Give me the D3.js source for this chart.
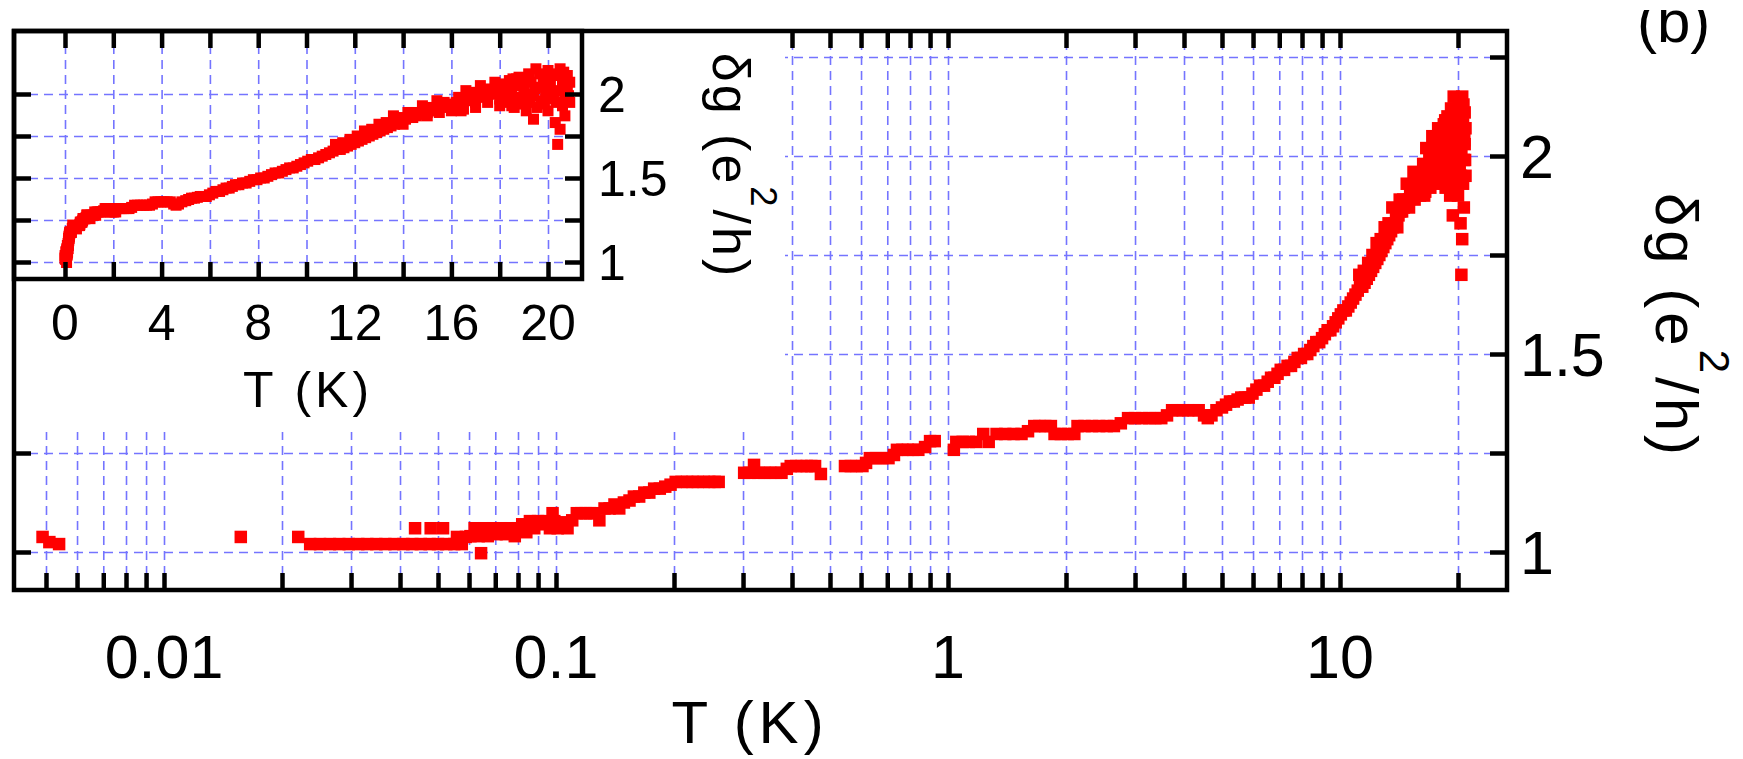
<!DOCTYPE html>
<html>
<head>
<meta charset="utf-8">
<script src="https://cdn.jsdelivr.net/npm/d3@7"></script>
<style>
  body { margin: 0; background: #fff; }
  svg text { font-family: "Liberation Sans", Arial, sans-serif; fill: #000; }
</style>
</head>
<body>
<svg id="chart" width="1743" height="759"></svg>
<script>
// temperature (K) and conductance correction (e^2/h)
const tempK = [
  0.0049, 0.0051, 0.0054, 0.0157, 0.0220, 0.0236, 0.0250, 0.0265, 0.0280, 0.0296,
  0.0313, 0.0330, 0.0348, 0.0367, 0.0387, 0.0408, 0.0430, 0.0437, 0.0452, 0.0476, 0.0479, 0.0500, 0.0515, 0.0525, 0.0550, 0.0559, 0.0575, 0.0589,
  0.0605, 0.0620, 0.0635, 0.0644, 0.0655, 0.0670, 0.0690, 0.0705, 0.0725, 0.0745, 0.0765, 0.0785, 0.0800, 0.0820, 0.0840, 0.0858, 0.0880, 0.0900, 0.0925, 0.0945, 0.0965, 0.0980, 0.0990,
  0.1010, 0.1040, 0.1070, 0.1100, 0.1130, 0.1160, 0.1190, 0.1220, 0.1250, 0.1290, 0.1330, 0.1370, 0.1410, 0.1450, 0.1490, 0.1540, 0.1580, 0.1630, 0.1680, 0.1730, 0.1780, 0.1840, 0.1900, 0.1960, 0.2020, 0.2090, 0.2160, 0.2230, 0.2300, 0.2380, 0.2460, 0.2540, 0.2600,
  0.302, 0.312, 0.320, 0.328, 0.340, 0.352, 0.364, 0.376, 0.388, 0.397, 0.410, 0.423, 0.436, 0.448, 0.458, 0.474,
  0.546, 0.565, 0.585, 0.605, 0.618, 0.632, 0.655, 0.680, 0.705, 0.728, 0.741, 0.765, 0.790, 0.815, 0.840, 0.874, 0.900, 0.925,
  1.035, 1.050, 1.090, 1.130, 1.180, 1.230, 1.270, 1.330, 1.400, 1.470, 1.540, 1.600, 1.660, 1.710, 1.770, 1.830, 1.870, 1.940, 2.020, 2.100, 2.140, 2.230, 2.330, 2.430, 2.540, 2.650, 2.760, 2.880, 3.000, 3.130, 3.260, 3.380, 3.500, 3.620,
  3.73, 3.85, 3.97, 4.10, 4.23, 4.36, 4.50, 4.60, 4.70, 4.84, 5.00, 5.12, 5.24, 5.36, 5.48, 5.60,
  5.72, 5.85, 5.98, 6.12, 6.25, 6.40, 6.54, 6.67, 6.80, 6.93, 7.06, 7.20, 7.35, 7.50, 7.65, 7.80, 7.95, 8.10, 8.25, 8.40, 8.55, 8.70, 8.85, 9.00, 9.15, 9.30, 9.45, 9.60, 9.75, 9.90,
  10.05, 10.2, 10.35, 10.5, 10.65, 10.8, 10.95, 11.1, 11.25, 11.4, 11.55, 11.7, 11.85, 12.0, 12.15, 12.3, 12.45, 12.6, 12.75, 12.9, 13.05, 13.2, 13.35, 13.5, 13.65, 13.8, 13.95, 14.1, 14.25, 14.4, 14.55, 14.7, 14.85, 15.0, 15.15, 15.3, 15.45, 15.6, 15.75, 15.9, 16.05, 16.2, 16.35, 16.5, 16.65, 16.8, 16.95, 17.1, 17.25, 17.4, 17.55, 17.7, 17.85, 18.0,
  11.2, 11.8, 12.4, 13.0, 13.6, 14.2, 14.8, 15.4, 16.0, 16.6, 17.2, 17.8, 16.4, 17.0, 18.0,
  11.5, 12.1, 12.7, 13.3, 13.9, 14.5, 15.1, 15.7, 16.3, 16.9, 17.5, 18.1, 18.7, 14.0, 15.0, 16.0, 17.0, 18.0, 19.0, 15.5, 16.5, 17.5, 18.5,
  18.2, 18.3, 18.4, 18.5, 18.6, 18.7, 18.8, 18.9, 19.0, 19.1, 19.2, 19.3, 19.4, 19.4, 19.5, 19.6, 19.7, 19.8, 19.9, 20.0, 20.0, 20.1, 20.2, 20.3, 20.3, 20.4, 20.4, 20.5, 20.5, 20.6, 20.6, 20.7, 20.7, 20.8, 20.8, 20.9, 20.9,
  18.25, 18.45, 18.65, 18.85, 19.05, 19.25, 19.45, 19.65, 19.85, 20.05, 20.25, 20.45, 20.65, 20.85, 19.15, 19.55, 19.95, 20.35, 20.75, 18.55
];
const deltaG = [
  1.038, 1.025, 1.02, 1.038, 1.038, 1.02, 1.02, 1.02, 1.02, 1.02,
  1.02, 1.02, 1.02, 1.02, 1.02, 1.02, 1.02, 1.06, 1.02, 1.02, 1.06, 1.02, 1.06, 1.02, 1.02, 1.038, 1.02, 1.038,
  1.04, 1.06, 1.04, 0.997, 1.06, 1.04, 1.06, 1.045, 1.06, 1.045, 1.06, 1.04, 1.06, 1.07, 1.05, 1.078, 1.06, 1.078, 1.07, 1.078, 1.06, 1.098, 1.078,
  1.06, 1.075, 1.06, 1.08, 1.098, 1.098, 1.098, 1.098, 1.098, 1.08, 1.11, 1.11, 1.12, 1.11, 1.125, 1.13, 1.14, 1.14, 1.15, 1.15, 1.16, 1.16, 1.165, 1.17, 1.177, 1.177, 1.177, 1.177, 1.177, 1.177, 1.177, 1.177, 1.177,
  1.20, 1.20, 1.22, 1.20, 1.20, 1.20, 1.20, 1.20, 1.21, 1.217, 1.217, 1.217, 1.217, 1.217, 1.217, 1.197,
  1.217, 1.217, 1.217, 1.217, 1.225, 1.237, 1.237, 1.237, 1.237, 1.245, 1.258, 1.258, 1.258, 1.258, 1.258, 1.265, 1.28, 1.28,
  1.258, 1.278, 1.278, 1.278, 1.278, 1.298, 1.278, 1.298, 1.298, 1.298, 1.298, 1.305, 1.318, 1.318, 1.318, 1.318, 1.298, 1.298, 1.298, 1.298, 1.318, 1.318, 1.318, 1.318, 1.318, 1.318, 1.325, 1.338, 1.338, 1.338, 1.338, 1.338, 1.338, 1.345,
  1.358, 1.358, 1.358, 1.358, 1.358, 1.358, 1.345, 1.338, 1.345, 1.358, 1.365, 1.372, 1.38, 1.38, 1.385, 1.39,
  1.39, 1.39, 1.40, 1.41, 1.42, 1.42, 1.43, 1.44, 1.44, 1.45, 1.46, 1.46, 1.47, 1.47, 1.48, 1.49, 1.49, 1.50, 1.50, 1.51, 1.52, 1.53, 1.53, 1.54, 1.55, 1.56, 1.56, 1.57, 1.58, 1.59,
  1.60, 1.61, 1.61, 1.62, 1.63, 1.64, 1.65, 1.66, 1.67, 1.67, 1.68, 1.69, 1.70, 1.71, 1.72, 1.73, 1.74, 1.75, 1.76, 1.77, 1.78, 1.79, 1.80, 1.81, 1.82, 1.83, 1.84, 1.85, 1.86, 1.86, 1.87, 1.88, 1.88, 1.89, 1.90, 1.90, 1.91, 1.92, 1.93, 1.93, 1.94, 1.95, 1.95, 1.96, 1.96, 1.97, 1.97, 1.98, 1.99, 1.99, 2.00, 2.00, 2.01, 2.02,
  1.70, 1.73, 1.78, 1.82, 1.87, 1.89, 1.93, 1.96, 1.90, 2.02, 2.05, 2.07, 1.90, 1.92, 1.93,
  1.71, 1.75, 1.79, 1.83, 1.86, 1.89, 1.92, 1.95, 1.98, 2.01, 2.03, 2.06, 2.09, 1.82, 1.87, 1.93, 1.95, 1.97, 1.94, 1.89, 1.91, 1.95, 1.93,
  2.04, 1.95, 2.08, 1.99, 1.92, 2.06, 2.10, 1.97, 2.03, 1.90, 2.12, 2.07, 1.85, 1.99, 2.15, 2.04, 1.94, 2.10, 2.01, 2.14, 1.90, 2.06, 1.97, 1.83, 2.12, 1.70, 2.02, 1.79, 2.15, 1.93, 2.08, 1.99, 1.87, 2.11, 2.03, 1.95, 2.07,
  2.00, 2.02, 1.98, 2.05, 2.09, 1.95, 2.03, 2.12, 1.96, 2.08, 2.00, 2.11, 2.13, 1.99, 2.00, 1.92, 2.05, 1.95, 2.04, 2.09
];

// ticks and labels
const mainTicksX = [0.005, 0.006, 0.007, 0.008, 0.009,
  0.01, 0.02, 0.03, 0.04, 0.05, 0.06, 0.07, 0.08, 0.09,
  0.1, 0.2, 0.3, 0.4, 0.5, 0.6, 0.7, 0.8, 0.9,
  1, 2, 3, 4, 5, 6, 7, 8, 9, 10, 20];
const mainLabelsX = [0.01, 0.1, 1, 10];
const mainTicksY = [1, 1.25, 1.5, 1.75, 2, 2.25];
const mainLabelsY = [1, 1.5, 2];
const insetTicksX = [0, 2, 4, 6, 8, 10, 12, 14, 16, 18, 20];
const insetLabelsX = [0, 4, 8, 12, 16, 20];
const insetTicksY = [1, 1.25, 1.5, 1.75, 2];
const insetLabelsY = [1, 1.5, 2];

const points = tempK.map((t, i) => ({t: t, g: deltaG[i]}));

const svg = d3.select("#chart");
const gridColor = "#7474ff";

const M = {left: 14, right: 1507, top: 31, bottom: 590};
const I = {left: 14, right: 582, top: 31, bottom: 279};
const cover = {w: 785, h: 432};   // white area behind the inset

const x = d3.scaleLog().domain([0.01, 10]).range([164, 1340]);
const y = d3.scaleLinear().domain([1, 2]).range([552, 156]);
const xIn = d3.scaleLinear().domain([0, 20]).range([65, 548]);
const yIn = d3.scaleLinear().domain([1, 2]).range([262, 94]);

function gridStyle(g) {
  g.select(".domain").remove();
  g.selectAll("text").remove();
  g.selectAll("line")
    .attr("stroke", gridColor)
    .attr("stroke-width", 1.6)
    .attr("stroke-dasharray", "9,6");
}
function tickStyle(g) {
  g.select(".domain").remove();
  g.selectAll("text").remove();
  g.selectAll("line")
    .attr("stroke", "#000")
    .attr("stroke-width", 4.5);
}

// ---- main plot ----
svg.append("g")
  .attr("transform", "translate(0," + M.bottom + ")")
  .call(d3.axisBottom(x).tickValues(mainTicksX).tickFormat("").tickSizeOuter(0)
    .tickSize(-(M.bottom - M.top)))
  .call(gridStyle);
svg.append("g")
  .attr("transform", "translate(" + M.left + ",0)")
  .call(d3.axisLeft(y).tickValues(mainTicksY).tickFormat("").tickSizeOuter(0)
    .tickSize(-(M.right - M.left)))
  .call(gridStyle);

svg.append("g").selectAll("rect")
  .data(points)
  .join("rect")
  .attr("x", d => x(d.t) - 6.25)
  .attr("y", d => y(d.g) - 6.25)
  .attr("width", 12.5)
  .attr("height", 12.5)
  .attr("fill", "#ff0000");

svg.append("rect")
  .attr("x", 0).attr("y", 0)
  .attr("width", cover.w).attr("height", cover.h)
  .attr("fill", "#fff");

svg.append("g")
  .attr("transform", "translate(0," + M.bottom + ")")
  .call(d3.axisBottom(x).tickValues(mainTicksX).tickFormat("").tickSizeOuter(0).tickSize(-17))
  .call(tickStyle);
svg.append("g")
  .attr("transform", "translate(0," + M.top + ")")
  .call(d3.axisTop(x).tickValues(mainTicksX.filter(d => x(d) > cover.w + 4))
    .tickFormat("").tickSizeOuter(0).tickSize(-17))
  .call(tickStyle);
svg.append("g")
  .attr("transform", "translate(" + M.right + ",0)")
  .call(d3.axisRight(y).tickValues(mainTicksY).tickFormat("").tickSizeOuter(0).tickSize(-17))
  .call(tickStyle);
svg.append("g")
  .attr("transform", "translate(" + M.left + ",0)")
  .call(d3.axisLeft(y).tickValues(mainTicksY.filter(d => y(d) > cover.h))
    .tickFormat("").tickSizeOuter(0).tickSize(-17))
  .call(tickStyle);

svg.append("rect")
  .attr("x", M.left).attr("y", M.top)
  .attr("width", M.right - M.left).attr("height", M.bottom - M.top)
  .attr("fill", "none").attr("stroke", "#000").attr("stroke-width", 4.5);

svg.append("g").selectAll("text")
  .data(mainLabelsX)
  .join("text")
  .attr("x", d => x(d))
  .attr("y", 678)
  .attr("text-anchor", "middle")
  .attr("font-size", 61)
  .text(d => String(d));
svg.append("g").selectAll("text")
  .data(mainLabelsY)
  .join("text")
  .attr("x", M.right + 13)
  .attr("y", d => y(d))
  .attr("dy", "0.36em")
  .attr("font-size", 61)
  .text(d => String(d));

svg.append("text")
  .attr("x", 750).attr("y", 743)
  .attr("text-anchor", "middle")
  .attr("font-size", 60)
  .attr("letter-spacing", 5)
  .text("T (K)");

function yTitle(cx, cy, size, spacing) {
  const t = svg.append("text")
    .attr("transform", "translate(" + cx + "," + cy + ") rotate(90)")
    .attr("text-anchor", "middle")
    .attr("font-size", size)
    .attr("letter-spacing", spacing);
  t.append("tspan").text("δg (e");
  t.append("tspan").attr("dy", -0.73 * size).attr("font-size", size * 0.7).text("2");
  t.append("tspan").attr("dy", 0.73 * size).text("/h)");
}
yTitle(1656, 326, 60, 4);

// panel letter, top clipped like the original
svg.append("clipPath").attr("id", "clipTop")
  .append("rect").attr("x", 0).attr("y", 10).attr("width", 1743).attr("height", 749);
svg.append("text")
  .attr("clip-path", "url(#clipTop)")
  .attr("x", 1637).attr("y", 42)
  .attr("font-size", 60)
  .text("(b)");

// ---- inset ----
svg.append("g")
  .attr("transform", "translate(0," + I.bottom + ")")
  .call(d3.axisBottom(xIn).tickValues(insetTicksX).tickFormat("").tickSizeOuter(0)
    .tickSize(-(I.bottom - I.top)))
  .call(gridStyle);
svg.append("g")
  .attr("transform", "translate(" + I.left + ",0)")
  .call(d3.axisLeft(yIn).tickValues(insetTicksY).tickFormat("").tickSizeOuter(0)
    .tickSize(-(I.right - I.left)))
  .call(gridStyle);

svg.append("g").selectAll("rect")
  .data(points)
  .join("rect")
  .attr("x", d => xIn(d.t) - 5.5)
  .attr("y", d => yIn(d.g) - 5.5)
  .attr("width", 11)
  .attr("height", 11)
  .attr("fill", "#ff0000");

svg.append("g")
  .attr("transform", "translate(0," + I.bottom + ")")
  .call(d3.axisBottom(xIn).tickValues(insetTicksX).tickFormat("").tickSizeOuter(0).tickSize(-17))
  .call(tickStyle);
svg.append("g")
  .attr("transform", "translate(0," + I.top + ")")
  .call(d3.axisTop(xIn).tickValues(insetTicksX).tickFormat("").tickSizeOuter(0).tickSize(-17))
  .call(tickStyle);
svg.append("g")
  .attr("transform", "translate(" + I.left + ",0)")
  .call(d3.axisLeft(yIn).tickValues(insetTicksY).tickFormat("").tickSizeOuter(0).tickSize(-17))
  .call(tickStyle);
svg.append("g")
  .attr("transform", "translate(" + I.right + ",0)")
  .call(d3.axisRight(yIn).tickValues(insetTicksY).tickFormat("").tickSizeOuter(0).tickSize(-17))
  .call(tickStyle);

svg.append("rect")
  .attr("x", I.left).attr("y", I.top)
  .attr("width", I.right - I.left).attr("height", I.bottom - I.top)
  .attr("fill", "none").attr("stroke", "#000").attr("stroke-width", 4.5);

svg.append("g").selectAll("text")
  .data(insetLabelsX)
  .join("text")
  .attr("x", d => xIn(d))
  .attr("y", 340)
  .attr("text-anchor", "middle")
  .attr("font-size", 50)
  .text(d => String(d));
svg.append("g").selectAll("text")
  .data(insetLabelsY)
  .join("text")
  .attr("x", I.right + 16)
  .attr("y", d => yIn(d))
  .attr("dy", "0.36em")
  .attr("font-size", 50)
  .text(d => String(d));

svg.append("text")
  .attr("x", 308).attr("y", 407)
  .attr("text-anchor", "middle")
  .attr("font-size", 50)
  .attr("letter-spacing", 4)
  .text("T (K)");

yTitle(713, 166, 52, 3);
</script>
</body>
</html>
